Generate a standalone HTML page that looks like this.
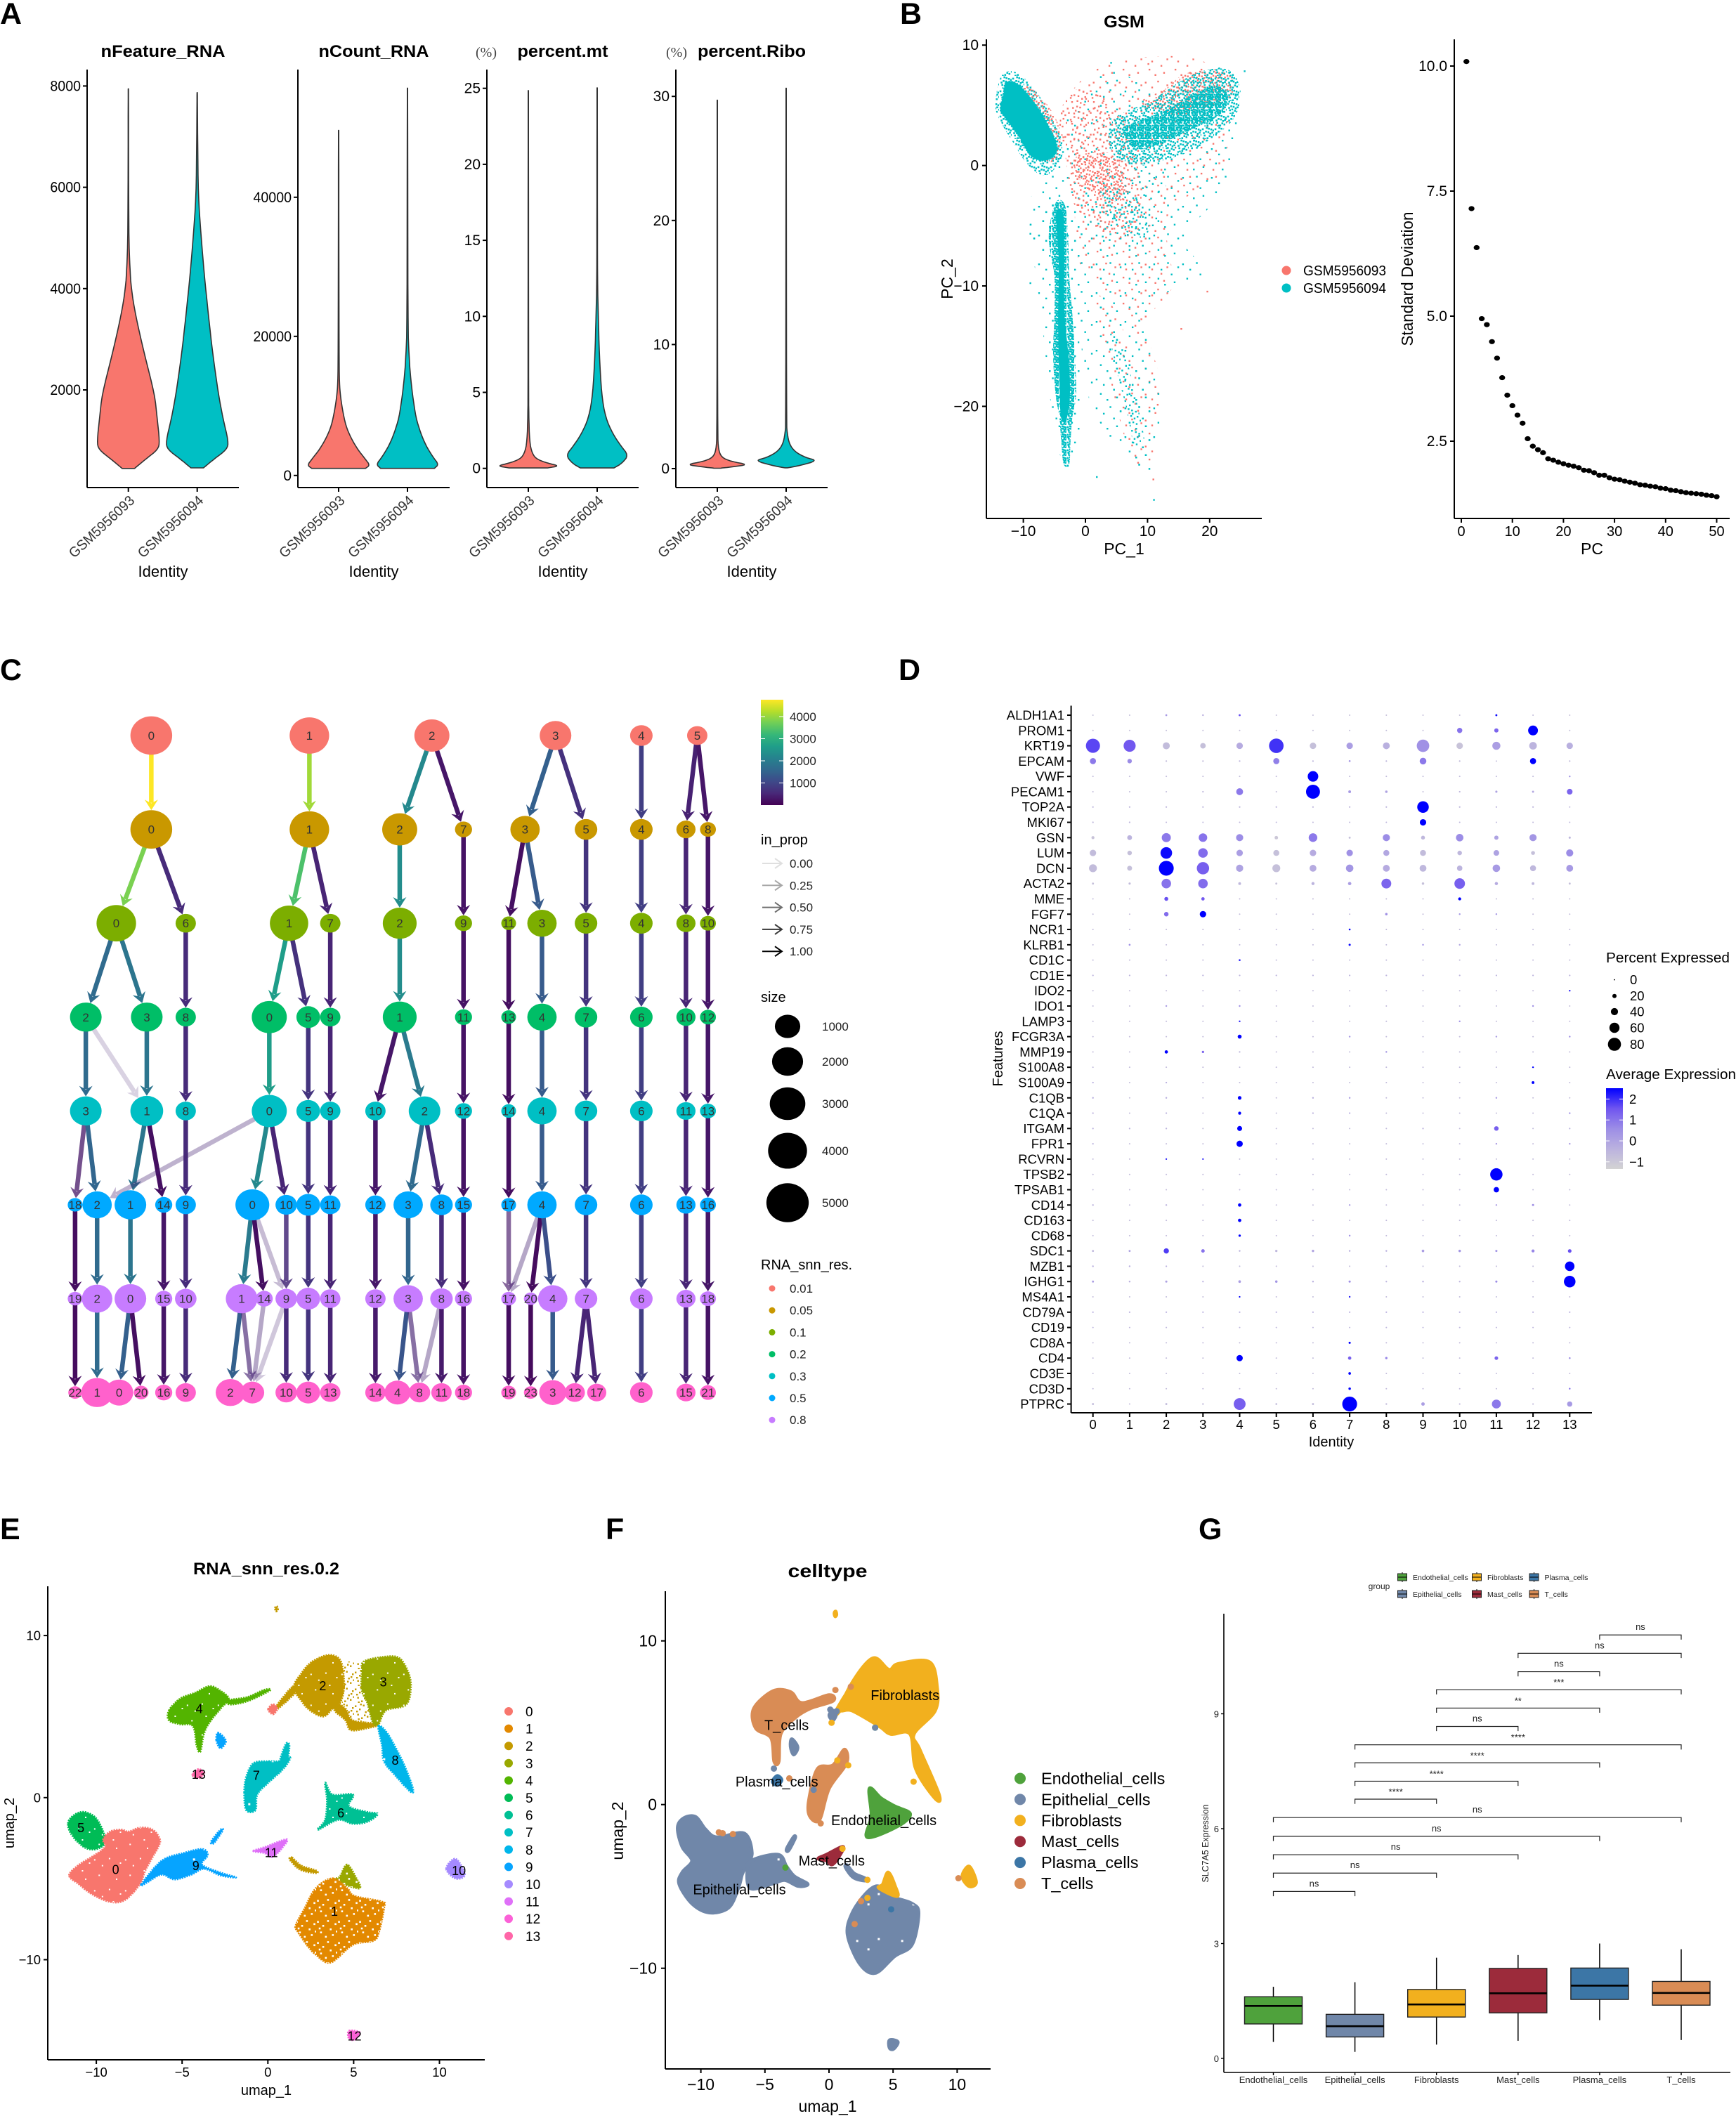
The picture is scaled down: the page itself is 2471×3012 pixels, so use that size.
<!DOCTYPE html>
<html lang="en">
<head>
<meta charset="utf-8">
<title>Single-cell RNA analysis figure</title>
<style>
html,body{margin:0;padding:0;background:#fff}
svg{display:block;font-family:"Liberation Sans",Arial,sans-serif}
</style>
</head>
<body>
<svg id="figure" xmlns="http://www.w3.org/2000/svg" width="2471" height="3012" viewBox="0 0 2471 3012">
<rect width="2471" height="3012" fill="#fff"/>
<defs id="defs"></defs>
<g id="panel-a"></g>
<g id="panel-b"></g>
<g id="panel-c"></g>
<g id="panel-d"></g>
<g id="panel-e"></g>
<g id="panel-f"></g>
<g id="panel-g"></g>
</svg>
<script>
/* ---------- Panel A data ---------- */
const violinSamples=['GSM5956093','GSM5956094'];
const featureTicks=[2000,4000,6000,8000];
const countTicks=[0,20000,40000];
const mtTicks=[0,5,10,15,20,25];
const riboTicks=[0,10,20,30];
const feature93Values=[450,630,825,980,1450,1915,2690,3470,4015,4405,5030,7945];
const feature93Density=[.2,.55,.95,1,.92,.84,.52,.23,.09,.05,.012,.005];
const feature94Values=[460,640,825,980,1450,1915,2690,3470,4250,5030,5805,6970,7870];
const feature94Density=[.2,.55,.95,1,.82,.68,.5,.36,.23,.125,.035,.015,.005];
const count93Values=[1020,1473,2323,3740,5440,7140,9405,11670,13940,20170,49630];
const count93Density=[.86,1,.86,.61,.39,.23,.125,.05,.02,.012,.005];
const count94Values=[1020,1586,2606,4306,6006,8272,11672,14505,17338,21304,55700];
const count94Density=[.86,1,.82,.59,.43,.27,.16,.09,.05,.014,.005];
const mt93Values=[.03,.16,.34,.6,.99,1.76,3.58,5.13,24.85];
const mt93Density=[.62,1,.62,.27,.12,.04,.014,.009,.004];
const mt94Values=[.03,.34,.86,1.5,2.28,3.32,4.88,7.47,10.06,12.14,18.4,25.03];
const mt94Density=[.54,.8,1,.75,.5,.27,.14,.07,.036,.01,.007,.004];
const ribo93Values=[.03,.13,.32,.57,.89,1.53,2.8,29.7];
const ribo93Density=[.09,.45,1,.45,.14,.036,.009,.004];
const ribo94Values=[.06,.25,.64,.89,1.37,2,2.8,3.6,30.66];
const ribo94Density=[.05,.45,1,.62,.27,.1,.036,.011,.004];

/* ---------- Panel B data ---------- */
const pcaXTicks=[-10,0,10,20];
const pcaYTicks=[10,0,-10,-20];
const pcaSparseRed=[[-4.3,4],[3.6,8.4],[20.5,8.2],[22.3,0],[13.4,-4],[14,-10],[10,-13],[12,-18],[11,-21],[8,-14],[4,-11],[-1,-8],[-2,-2]];
const pcaSparseCyan=[[-6,-1],[-4,3],[3.6,8.2],[8,7],[13,6],[24,8],[23,-1],[16,-6],[19,-9],[10,-12],[12,-19],[10.8,-25],[8,-25],[1,-20],[-1,-13],[-2,-7],[-8,-7],[-9,-3]];
const pcaRedWedgeCore=[[-4,4.5],[0,6.5],[6,4],[8,1],[9,-3],[7,-6],[1,-5],[-2,-3],[-3,0]];
const pcaCyanMidWedge=[[0,-2],[5,0],[11,1],[13,-2],[11,-5],[7,-7],[2,-6]];
const pcaBandHalo=[[-9,-5],[-6,-3],[-1,-4],[-1,-14],[-1,-23],[-3,-25],[-5,-22],[-7,-13],[-8,-9]];
const pcaBlobHalo=[[-14.5,5],[-13.5,7.5],[-11,7.7],[-8,6.2],[-5.5,4],[-3.5,1.5],[-5,-.3],[-7,-.8],[-9.5,.2],[-11.5,1.8],[-13.5,3.5]];
const pcaRedShoulder=[[-10,6.4],[-7,5.6],[-4.3,3.3],[-4.3,1],[-5.7,.3],[-8,1.5]];
const pcaRedCore=[[-1.7,.6],[4,1],[6.3,-1],[5.4,-3],[0,-1.8]];
const pcaCyanCore=[[3,-2],[7,-2.2],[10,-4],[9.5,-6],[5,-5],[2.5,-3.5]];
const pcaLowerCloud=[[1.4,-11.1],[4.5,-11.8],[8.1,-16.7],[10.7,-20.6],[10.7,-24.8],[8.1,-25],[5.4,-20.9],[3.2,-15.7]];
const pcaLowerCore=[[4,-14],[6,-15],[8,-19],[9.5,-23],[8,-23.5],[6.5,-20],[5,-17]];
const pcaRightRed=[[9,5.2],[13,6.4],[16,7.6],[21,8],[23.5,7.4],[23,5.6],[15.2,4.2]];
const pcaRightCyan=[[4,3.5],[6.5,4.5],[10,5.2],[13,6.2],[16,7.2],[20,8],[23.5,7.8],[25,6],[24,4],[21,2.5],[17,1.2],[13,.5],[9,0],[5.5,.5],[4,1.5]];
const pcaRightCore=[[6,3],[8,3.6],[13,4.6],[17,5.8],[21,6.6],[23,5.6],[21,4],[17,3],[12,1.8],[8,1.4]];
const pcaCyanDense=[[-12.8,6.9],[-11,6.8],[-8.8,5.6],[-6.6,3.9],[-4.8,2],[-4.8,1],[-6.6,.4],[-8.8,.8],[-10.6,2.3],[-12.8,3.9],[-13.7,4.6],[-13.2,5.9]];
const pcaCyanBand=[[-4.8,-3.1],[-3.3,-3.3],[-2.8,-5.9],[-2.6,-9.2],[-2.1,-12.4],[-1.7,-15.7],[-1.5,-19],[-2.1,-20.9],[-2.4,-22.9],[-2.6,-24.8],[-3.5,-24.8],[-3.9,-22.9],[-4.2,-20.9],[-4.8,-19],[-5.2,-15.7],[-5,-12.4],[-5,-9.2],[-5.9,-5.9]];
const pcaBandCore=[[-4.7,-4],[-3.6,-4],[-3.4,-7],[-3.4,-12],[-2.7,-16],[-2.5,-19],[-3,-21],[-3.9,-21],[-4.2,-18],[-4.4,-13],[-4.3,-8]];
const pcaOutliersCyan=[[1.7,-25.8],[10.9,-27.7],[-9,-9.7],[-9,-5.6],[23,7.8],[25.5,7.9],[4,8.6]];
const pcaOutliersRed=[[10.8,-26],[15.3,-13.5],[19.5,-10.4],[11.5,-19.8],[10,8.5]];
const pcSdevValues=[10.09,7.15,6.37,4.95,4.83,4.49,4.16,3.77,3.42,3.21,3.02,2.86,2.55,2.4,2.33,2.27,2.15,2.12,2.08,2.05,2.02,2,1.97,1.92,1.91,1.87,1.82,1.82,1.77,1.74,1.73,1.7,1.68,1.66,1.63,1.62,1.6,1.59,1.56,1.55,1.52,1.51,1.49,1.47,1.46,1.45,1.44,1.42,1.41,1.39];
const elbowXTicks=[0,10,20,30,40,50];
const elbowYTicks=[2.5,5,7.5,10];

/* ---------- Panel C data ---------- */
const treeResolutions=['0.01','0.05','0.1','0.2','0.3','0.5','0.8'];
const treeLevelColors=['#F8766D','#C99800','#7CAE00','#00BE67','#00BFC4','#00A9FF','#C77CFF','#FF61CC'];
const treeLevel0=[[0,268,4830],[1,548,4170],[2,765,2880],[3,984,2130],[4,1136,780],[5,1235,610]];
const treeLevel1=[[0,268,4830],[1,548,4170],[2,708,2880],[7,821,360],[3,930,1700],[5,1038,780],[4,1136,780],[6,1215,520],[8,1254,270]];
const treeLevel2=[[0,206,4170],[6,329,610],[1,512,3830],[7,585,610],[2,708,2620],[9,821,360],[11,901,180],[3,960,1700],[5,1038,780],[4,1136,780],[8,1215,520],[10,1254,270]];
const treeLevel3=[[2,152,2130],[3,260,2130],[8,329,610],[0,477,2880],[5,546,870],[9,585,610],[1,708,2620],[11,821,360],[13,901,180],[4,960,1700],[7,1038,780],[6,1136,780],[10,1215,520],[12,1254,270]];
const treeLevel4=[[3,152,2130],[1,260,2380],[8,329,610],[0,477,2880],[5,546,870],[9,585,610],[10,665,610],[2,752,2130],[12,821,360],[14,901,180],[4,960,1700],[7,1038,780],[6,1136,780],[11,1215,520],[13,1254,270]];
const treeLevel5=[[18,133,180],[2,172,1700],[1,231,2130],[14,290,360],[9,329,610],[0,447,2620],[10,507,700],[5,546,870],[11,585,610],[12,665,610],[3,723,1700],[8,782,780],[15,821,360],[17,901,180],[4,960,1700],[7,1038,780],[6,1136,780],[13,1215,520],[16,1254,270]];
const treeLevel6=[[19,133,180],[2,172,1900],[0,231,2130],[15,290,360],[10,329,700],[1,428,2130],[14,468,360],[9,507,700],[5,546,870],[11,585,610],[12,665,610],[3,723,1700],[8,782,780],[16,821,360],[17,901,180],[20,940,90],[4,979,1700],[7,1038,780],[6,1136,780],[13,1215,520],[18,1254,270]];
const treeLevel7=[[22,133,90],[1,172,2130],[0,211,1500],[20,250,180],[16,290,360],[9,329,610],[2,408,1700],[7,447,870],[10,507,700],[5,546,870],[13,585,610],[14,665,610],[4,704,1100],[8,743,700],[11,782,610],[18,821,360],[19,901,180],[23,940,90],[3,979,1300],[12,1018,610],[17,1057,520],[6,1136,780],[15,1215,520],[21,1254,270]];
/* edge: from-cluster, to-cluster, cells, in_prop */
const treeEdges0=[[0,0,4900,1],[1,1,4200,1],[2,2,2300,1],[2,7,300,1],[3,3,1500,1],[3,5,700,1],[4,4,900,1],[5,6,450,1],[5,8,300,1]];
const treeEdges1=[[0,0,3900,1],[0,6,600,1],[1,1,3500,1],[1,7,500,1],[2,2,2400,1],[7,9,250,1],[3,11,200,1],[3,3,1400,1],[5,5,750,1],[4,4,900,1],[6,8,500,1],[8,10,300,1]];
const treeEdges2=[[0,2,1700,1],[0,3,1900,1],[6,8,600,1],[1,0,2700,1],[1,5,700,1],[7,9,500,1],[2,1,2400,1],[9,11,250,1],[11,13,180,1],[3,4,1400,1],[5,7,750,1],[4,6,900,1],[8,10,500,1],[10,12,300,1]];
const treeEdges3=[[2,3,1700,1],[2,1,500,.2],[3,1,1900,1],[8,8,600,1],[0,0,2700,1],[5,5,750,1],[9,9,500,1],[1,10,300,1],[1,2,2000,1],[11,12,250,1],[13,14,180,1],[4,4,1400,1],[7,7,750,1],[6,6,900,1],[10,11,500,1],[12,13,300,1]];
const treeEdges4=[[3,18,300,.75],[3,2,1600,1],[1,1,1900,1],[1,14,200,1],[8,9,600,1],[0,2,500,.35],[0,0,2300,1],[0,10,500,1],[5,5,750,1],[9,11,500,1],[10,12,300,1],[2,3,1700,1],[2,8,600,1],[12,15,250,1],[14,17,180,1],[4,4,1400,1],[7,7,750,1],[6,6,900,1],[11,13,500,1],[13,16,300,1]];
const treeEdges5=[[18,19,180,1],[2,2,1700,1],[1,0,1900,1],[14,15,300,1],[9,10,600,1],[0,1,2000,1],[0,14,200,1],[0,9,500,.3],[10,9,600,.85],[5,5,750,1],[11,11,500,1],[12,12,300,1],[3,3,1600,1],[8,8,600,1],[15,16,250,1],[17,17,300,.65],[4,17,500,.4],[4,20,150,1],[4,4,1200,1],[7,7,750,1],[6,6,900,1],[13,13,500,1],[16,18,300,1]];
const treeEdges6=[[19,22,150,1],[2,1,1700,1],[0,0,1500,1],[0,20,200,1],[15,16,300,1],[10,9,600,1],[1,2,1500,1],[1,7,500,.65],[14,7,500,.4],[9,7,500,.25],[9,10,600,1],[5,5,750,1],[11,13,500,1],[12,14,350,1],[3,4,1300,1],[3,8,500,.65],[8,8,500,.4],[8,11,350,1],[16,18,250,1],[17,19,180,1],[20,23,120,1],[4,3,1400,1],[7,12,500,1],[7,17,500,1],[6,6,900,1],[13,15,500,1],[18,21,250,1]];
const colorbarTicks=[1000,2000,3000,4000];
const inPropLevels=[0,.25,.5,.75,1];
const sizeLevels=[1000,2000,3000,4000,5000];
const viridisStops=['#440154','#482878','#3e4989','#31688e','#26828e','#1f9e89','#35b779','#6ece58','#b5de2b','#fde725'];

/* ---------- Panel D data ---------- */
const dotGenes=['ALDH1A1','PROM1','KRT19','EPCAM','VWF','PECAM1','TOP2A','MKI67','GSN','LUM','DCN','ACTA2','MME','FGF7','NCR1','KLRB1','CD1C','CD1E','IDO2','IDO1','LAMP3','FCGR3A','MMP19','S100A8','S100A9','C1QB','C1QA','ITGAM','FPR1','RCVRN','TPSB2','TPSAB1','CD14','CD163','CD68','SDC1','MZB1','IGHG1','MS4A1','CD79A','CD19','CD8A','CD4','CD3E','CD3D','PTPRC'];
const dotClusters=[0,1,2,3,4,5,6,7,8,9,10,11,12,13];
const dotPercent=[
[1,1,4,3,5,1,1,1,1,1,1,5,1,1],
[1,1,1,1,1,1,1,1,1,1,27,20,58,1],
[87,73,39,29,35,90,35,35,38,76,35,46,43,35],
[33,22,2,2,2,33,2,4,2,37,2,1,33,2],
[1,1,1,1,1,1,63,1,1,1,1,1,1,3],
[1,1,1,2,38,1,86,10,8,1,2,6,5,30],
[2,2,2,2,2,2,2,2,2,70,2,2,2,1],
[2,2,1,1,1,1,1,1,1,35,1,1,1,1],
[12,24,53,49,40,15,50,5,40,18,42,20,40,6],
[35,22,70,56,35,32,35,35,32,32,22,30,18,40],
[45,25,92,75,40,45,38,42,38,38,28,42,32,38],
[5,6,56,56,10,5,12,14,58,8,63,13,10,5],
[1,1,18,14,1,1,1,1,1,1,12,1,1,1],
[1,1,22,35,1,1,1,1,8,1,3,3,1,1],
[1,1,1,1,1,1,1,4,1,1,1,1,1,1],
[1,4,1,1,1,1,1,6,1,3,3,1,1,1],
[1,1,1,1,4,1,1,1,1,1,1,1,1,1],
[2,2,2,2,2,2,2,2,2,2,2,2,2,2],
[1,1,1,1,1,1,1,1,1,1,1,1,1,3],
[1,1,3,1,3,1,1,1,1,1,1,1,3,1],
[1,1,1,1,3,1,1,1,1,1,3,1,1,1],
[1,1,1,1,18,1,1,3,1,1,1,3,1,3],
[1,1,14,7,2,1,1,1,3,1,1,1,1,1],
[1,1,1,1,1,1,1,1,1,1,1,1,3,1],
[2,1,2,1,1,1,1,1,1,1,1,1,10,1],
[3,1,3,1,16,1,3,3,1,1,1,3,1,1],
[2,1,2,1,12,1,2,2,1,1,1,1,1,3],
[2,2,2,1,25,1,1,1,1,2,1,22,1,2],
[2,1,1,1,34,1,1,1,1,1,1,3,1,3],
[1,1,2,2,1,1,1,1,1,1,1,1,1,1],
[1,1,1,1,1,1,1,1,1,1,1,75,1,1],
[1,1,1,1,1,1,1,1,1,1,1,28,1,1],
[3,1,3,1,14,1,1,3,1,1,1,3,6,1],
[1,1,1,1,14,1,1,1,1,1,1,1,1,1],
[1,1,1,1,7,1,1,3,1,1,1,1,1,1],
[5,5,27,15,3,7,8,3,3,9,8,6,12,16],
[3,3,2,1,1,1,1,1,1,1,1,1,1,56],
[5,3,6,2,9,8,3,6,2,3,2,6,1,70],
[1,1,1,1,2,1,1,3,1,1,1,1,1,1],
[2,2,2,2,2,2,2,2,2,2,2,2,2,2],
[1,1,1,1,1,1,1,1,1,1,1,1,1,1],
[1,1,1,1,1,1,1,6,1,1,1,1,1,1],
[1,1,1,1,34,1,1,14,7,1,1,16,1,4],
[1,1,1,1,1,1,1,9,1,1,1,1,1,1],
[1,1,1,1,1,1,1,8,1,1,1,1,1,3],
[5,1,5,3,72,4,5,92,3,15,2,52,2,27]];
const dotAverage=[
[-.6,-.6,.3,-.2,1.5,-.6,-.6,-.6,-.6,-.6,-.6,2.2,-.5,-.6],
[-.6,-.6,-.6,-.6,-.6,-.6,-.6,-.6,-.6,-.6,1,1.2,2.4,-.6],
[1.6,1.4,-.5,-.6,-.1,1.8,-.6,.2,-.2,.5,-.7,.2,-.3,-.2],
[.9,.6,-.5,-.5,-.4,.8,-.4,.3,-.4,.9,-.5,-.5,2.3,-.5],
[-.5,-.5,-.5,-.5,-.5,-.5,2.4,-.5,-.5,-.5,-.5,-.5,-.5,.4],
[-.5,-.5,-.5,-.4,.9,-.5,2.4,.3,.1,-.5,-.4,.1,0,1.2],
[-.4,-.4,-.4,-.4,-.4,-.4,-.4,-.4,-.4,2.4,-.4,-.4,-.4,-.4],
[-.4,-.4,-.4,-.4,-.4,-.4,-.4,-.4,-.4,2.5,-.4,-.4,-.4,-.4],
[-.7,-.3,.9,1,.6,-.8,.9,-.6,.6,-.4,.6,.1,.4,-.4],
[-.5,-.6,2.2,1.1,.2,-.6,-.1,.5,0,-.5,-.4,.1,-.6,.6],
[-.5,-.6,2.4,1.3,.1,-.6,-.1,.4,-.1,-.4,-.3,.3,-.4,.3],
[-.6,-.5,1,1.1,-.4,-.7,-.3,.2,1.2,-.6,1.3,-.1,-.4,-.6],
[-.5,-.5,1.5,1.4,-.5,-.5,-.5,-.5,-.5,-.5,2.3,-.5,-.5,-.5],
[-.5,-.5,1.1,2.5,-.5,-.5,-.5,-.5,.5,-.5,.3,.3,-.5,-.5],
[-.5,-.5,-.5,-.5,-.5,-.5,-.5,2.2,-.5,-.5,-.5,-.5,-.5,-.5],
[-.5,.5,-.5,-.5,-.5,-.5,-.5,2.2,-.5,.4,0,-.5,-.5,-.5],
[-.5,-.5,-.5,-.5,2,-.5,-.5,-.5,-.5,-.5,-.5,-.5,-.5,-.5],
[-.3,-.3,-.3,-.3,-.3,-.3,-.3,-.3,-.3,-.3,-.3,-.3,-.3,-.3],
[-.5,-.5,-.5,-.5,-.5,-.5,-.5,-.5,-.5,-.5,-.5,-.5,-.5,2],
[-.5,-.5,.2,-.5,.5,-.5,-.5,-.5,-.5,-.5,-.5,-.5,.5,-.5],
[-.5,-.5,-.5,-.5,2,-.5,-.5,-.5,-.5,-.5,.5,-.5,-.5,-.5],
[-.5,-.5,-.5,-.5,2.4,-.5,-.5,.3,-.5,-.5,-.5,.2,-.5,.5],
[-.5,-.5,2.3,1.2,-.4,-.5,-.5,-.5,.3,-.5,-.5,-.5,-.5,-.5],
[-.5,-.5,-.5,-.5,-.5,-.5,-.5,-.5,-.5,-.5,-.5,-.5,2.5,-.5],
[-.2,-.5,-.2,-.5,-.5,-.5,-.5,-.5,-.5,-.5,-.5,-.5,2.5,-.5],
[-.2,-.5,-.2,-.5,2.5,-.5,-.2,.2,-.5,-.5,-.5,.2,-.5,-.5],
[-.3,-.5,-.3,-.5,2.5,-.5,-.3,-.2,-.5,-.5,-.5,-.5,-.5,.5],
[-.3,-.3,-.3,-.5,2.4,-.5,-.5,-.5,-.5,-.3,-.5,1.3,-.5,-.3],
[-.3,-.5,-.5,-.5,2.5,-.5,-.5,-.5,-.5,-.5,-.5,.2,-.5,.2],
[-.5,-.5,2,2,-.5,-.5,-.5,-.5,-.5,-.5,-.5,-.5,-.5,-.5],
[-.5,-.5,-.5,-.5,-.5,-.5,-.5,-.5,-.5,-.5,-.5,2.5,-.5,-.5],
[-.5,-.5,-.5,-.5,-.5,-.5,-.5,-.5,-.5,-.5,-.5,2.5,-.5,-.5],
[-.3,-.5,-.3,-.5,2.5,-.5,-.5,.2,-.5,-.5,-.5,.2,.5,-.5],
[-.5,-.5,-.5,-.5,2.5,-.5,-.5,-.5,-.5,-.5,-.5,-.5,-.5,-.5],
[-.5,-.5,-.5,-.5,2.5,-.5,-.5,.5,-.5,-.5,-.5,-.5,-.5,-.5],
[-.4,.1,1.7,1,-.3,-.4,0,-.2,-.2,.2,.4,.4,.7,1.5],
[-.2,-.2,-.2,-.5,-.5,-.5,-.5,-.5,-.5,-.5,-.5,-.5,-.5,2.5],
[.2,-.2,.1,-.2,.2,.4,-.2,.5,-.3,-.2,-.3,.6,-.5,2.5],
[-.5,-.5,-.5,-.5,2.3,-.5,-.5,2,-.5,-.5,-.5,-.5,-.5,-.5],
[-.2,-.2,-.2,-.2,-.2,-.2,-.2,-.2,-.2,-.2,-.2,-.2,-.2,-.2],
[-.4,-.4,-.4,-.4,-.4,-.4,-.4,-.4,-.4,-.4,-.4,-.4,-.4,-.4],
[-.5,-.5,-.5,-.5,-.5,-.5,-.5,2.4,-.5,-.5,-.5,-.5,-.5,-.5],
[-.5,-.5,-.5,-.5,2.5,-.5,-.5,1.3,.7,-.5,-.5,1.2,-.5,.4],
[-.5,-.5,-.5,-.5,-.5,-.5,-.5,2.4,-.5,-.5,-.5,-.5,-.5,-.5],
[-.5,-.5,-.5,-.5,-.5,-.5,-.5,2.4,-.5,-.5,-.5,-.5,-.5,1],
[-.5,-.5,-.5,-.5,1.3,-.5,-.5,2.5,-.5,.2,-.5,.9,-.5,.3]];
const percentLegend=[0,20,40,60,80];
const averageLegend=[2,1,0,-1];
const expressionStops=['#D3D3D3','#BBB2DF','#9C8DE6','#6F55F0','#0000FF'];

/* ---------- Panels E / F data (outlines in UMAP units) ---------- */
const umapXTicks=[-10,-5,0,5,10];
const umapYTicks=[10,0,-10];
const hueClusters=['#F8766D','#E38900','#C49A00','#99A800','#53B400','#00BC56','#00C094','#00BFC4','#00B6EB','#06A4FF','#A58AFF','#DF70F8','#FB61D7','#FF66A8'];
const cellTypes=['Endothelial_cells','Epithelial_cells','Fibroblasts','Mast_cells','Plasma_cells','T_cells'];
const cellTypeColors=['#4FA23C','#7087A9','#F2B01E','#9C2B3B','#3C76A6','#D98C55'];
const cluster0Outline=[[-11.58,-4.8],[-11,-4.14],[-10.26,-3.66],[-9.5,-3.06],[-9.6,-2.58],[-9.19,-2.1],[-8.54,-1.98],[-8.12,-2.1],[-7.47,-1.86],[-6.72,-1.98],[-6.3,-2.58],[-6.4,-3.06],[-6.72,-3.66],[-7.15,-4.5],[-7.47,-5.35],[-8.33,-6.31],[-9.19,-6.43],[-10.26,-5.95],[-11,-5.35]];
const cluster1Outline=[[3.77,-4.99],[4.62,-5.59],[5.05,-6.07],[6.66,-6.43],[6.77,-6.8],[6.45,-8.36],[6.12,-8.84],[4.95,-9.08],[3.66,-10.17],[2.8,-9.69],[2.27,-9.08],[1.73,-8.24],[1.63,-7.88],[2.16,-6.8],[2.8,-5.59]];
const cluster1Tip=[[4.62,-4.14],[4.2,-4.87],[3.9,-5.1],[5.3,-5.6],[5.16,-4.99]];
const cluster2Outline=[[1.52,6.82],[1.95,7.66],[2.59,8.39],[3.55,8.8],[4.2,8.5],[4.41,7.54],[4.41,6.58],[4.2,5.86],[3.77,5.49],[3.23,5.01],[2.48,5.37],[1.95,5.98]];
const cluster2Tail=[[3.77,5.97],[4.52,5.49],[4.95,4.77],[6.45,4.53],[5.8,4.29],[4.84,4.17],[4.52,4.77],[3.9,5.37]];
const cluster2Trail=[[1.41,6.82],[.4,5.5],[.6,5.5],[1.6,6.5]];
const cluster23Gap=[[4.2,8.2],[5.7,8],[5.9,5.6],[6.2,4.7],[4.8,4.8],[4.3,6]];
const cluster3Outline=[[5.48,7.78],[5.59,8.39],[6.66,8.67],[7.62,8.63],[8.16,7.78],[8.33,6.82],[8.05,5.73],[6.87,5.37],[6.45,4.53],[6.12,4.65],[5.8,5.85],[5.48,6.63]];
const cluster4Outline=[[-5.76,5.37],[-5.12,6.1],[-4.26,6.46],[-3.4,6.87],[-2.76,6.58],[-2.29,6.1],[-2.76,5.49],[-3.4,4.65],[-3.73,3.93],[-3.94,2.84],[-4.15,3.2],[-4.37,4.41],[-5.12,4.53],[-5.76,4.77]];
const cluster4Trail=[[-2.29,6],[-1.2,6.2],[-.2,6.65],[.1,6.6],[-1.2,5.95],[-2.2,5.75]];
const cluster5Outline=[[-11.65,-1.6],[-11.3,-1.08],[-10.7,-.89],[-10.04,-1.25],[-9.6,-2.1],[-9.5,-2.82],[-10.04,-3.18],[-10.7,-3.06],[-11.4,-2.34]];
const cluster6Outline=[[3.34,.92],[3.77,.19],[4.95,.19],[4.73,-.53],[5.8,-.89],[6.4,-1.01],[5.8,-1.49],[4.95,-1.61],[4.09,-1.37],[2.91,-1.98],[3.34,-1.37],[3.45,-.17]];
const cluster7Outline=[[-1.37,.31],[-1.26,1.28],[-.84,2.12],[-.02,2.24],[.64,2.24],[1.3,2.48],[.88,1.76],[.02,.92],[-.62,.19],[-.73,-.77],[-1.26,-.77]];
const cluster7Trail=[[.7,2.2],[1.05,3.3],[1.25,3.2],[1.1,2.2]];
const cluster8Outline=[[6.45,4.41],[6.98,3.93],[7.84,2.24],[8.42,.67],[8.33,.36],[7.41,1.39],[6.77,2.24],[6.66,3.2]];
const cluster9Outline=[[-7.37,-5.35],[-6.19,-3.9],[-4.9,-3.42],[-3.83,-3.18],[-3.51,-3.54],[-3.83,-4.14],[-2.76,-4.63],[-1.86,-4.92],[-2.76,-4.8],[-3.72,-4.39],[-4.47,-4.75],[-5.44,-5.04],[-6.19,-4.75],[-7.05,-5.23]];
const cluster9Spur=[[-3.3,-2.7],[-2.76,-1.98],[-2.65,-2.05],[-3.15,-2.8]];
const cluster9Patch=[[-3,3.55],[-2.9,4],[-2.45,3.5],[-2.76,3.05]];
const cluster10Outline=[[10.4,-4.39],[10.94,-3.78],[11.48,-4.75],[10.94,-4.99]];
const cluster11Outline=[[-.84,-3.3],[-.19,-3.06],[1.09,-2.58],[.77,-3.18],[.24,-3.66],[-.19,-3.42]];
const cluster11Trail=[[1.4,-3.7],[1.95,-4.2],[2.8,-4.5],[2.8,-4.65],[1.9,-4.45],[1.3,-3.85]];
const cluster12Outline=[[4.73,-14.39],[5.37,-14.5],[5.05,-14.92],[4.73,-14.87]];
const cluster13Outline=[[-4.4,1.4],[-4.05,1.75],[-3.7,1.5],[-4.05,1.2]];
const stray0Outline=[[.02,5.45],[.3,5.75],[.55,5.5],[.3,5.15]];
const strayTopOutline=[[.42,11.7],[.52,11.8],[.58,11.6],[.48,11.5]];
/* cell-type bulks as they read in panel F */
const epithelialMainOutline=[[-11.81,-1.4],[-11.3,-.81],[-10.39,-.76],[-9.64,-1.52],[-8.73,-2],[-6.63,-1.76],[-6.02,-2.95],[-6.48,-3.79],[-6.78,-4.26],[-7.08,-5.1],[-7.83,-6.29],[-9.34,-6.6],[-10.69,-6.05],[-11.69,-4.86],[-11.45,-4.14],[-10.69,-3.43],[-11.45,-2.59]];
const epithelialBridgeOutline=[[-6.33,-3.79],[-5.72,-3.31],[-3.92,-3.07],[-3.31,-3.79],[-2.71,-4.38],[-1.66,-4.86],[-2.41,-4.98],[-3.46,-4.62],[-4.52,-4.86],[-6.17,-5.1]];
const epithelialLowerOutline=[[3.77,-4.98],[4.52,-5.45],[5.12,-5.69],[6.48,-6.05],[6.99,-6.64],[6.48,-8.55],[5.12,-9.26],[3.61,-10.29],[2.41,-9.74],[1.45,-7.95],[1.81,-6.64],[2.86,-5.45]];
const fibroblastOutline=[[.9,5.86],[1.96,7.64],[3.46,8.95],[4.67,8.24],[5.42,8.6],[7.83,8.71],[8.43,7.17],[8.28,5.74],[6.63,4.31],[7.08,3.36],[8.58,.62],[8.28,.38],[6.78,2.17],[6.33,4.31],[4.82,4.31],[3.92,4.79],[1.81,5.74]];
const tCellUpperOutline=[[-5.87,5.86],[-4.37,6.93],[-3,6.88],[-2.11,6.21],[0,6.69],[.3,6.33],[-1.51,5.86],[-2.71,5.26],[-3.77,4.31],[-3.92,2.64],[-4.28,2.64],[-4.52,4.07],[-5.72,4.67]];
const tCellLowerOutline=[[-1.51,-.69],[-1.57,.26],[-.9,2.17],[.3,2.4],[1.2,3.36],[1.36,2.52],[0,.98],[-.75,-.93]];
const endothelialOutline=[[3.16,.98],[4.07,.38],[5.12,-.1],[6.33,-.57],[5.42,-1.29],[3.01,-2],[3.31,-.69]];
const umapLabelsE=[[0,-8.87,-4.43],[1,3.88,-7],[2,3.2,6.9],[3,6.73,7.14],[4,-4,5.5],[5,-10.9,-1.85],[6,4.25,-.94],[7,-.67,1.38],[8,7.42,2.3],[9,-4.2,-4.2],[10,11.13,-4.5],[11,.2,-3.4],[12,5.05,-14.7],[13,-4.03,1.45]];
const umapLabelsF=[['Fibroblasts',5.93,6.69],['T_cells',-3.31,4.86],['Plasma_cells',-4.07,1.4],['Endothelial_cells',4.28,-.95],['Mast_cells',.21,-3.43],['Epithelial_cells',-6.99,-5.19]];
/* spots: x, y, cell-type index */
const umapSpotsF=[[-8.6,-1.7,5],[-8.3,-1.75,5],[-7.5,-1.8,5],[1.05,-2.7,2],[.2,5,2],[.1,5.8,1],[.6,5.7,1],[-3.9,1.6,4],[-3.95,1.3,4],[-4.3,2.2,1],[-3.1,1.6,5],[-3.4,-3.85,0],[-.65,-1.15,5],[-1.2,.9,1],[.65,2.7,2],[1.5,2.4,2],[6.6,1.4,2],[.5,7,5],[1.7,7.2,5],[2,-7.3,5],[4.85,-6.4,4],[2.5,-5.9,5],[3,-5.7,2],[3.6,4.7,0],[3.6,4.7,1],[10.1,-4.5,5],[3,-4.6,2]];

/* ---------- Panel G data ---------- */
const boxGroups=['Endothelial_cells','Epithelial_cells','Fibroblasts','Mast_cells','Plasma_cells','T_cells'];
const boxWhiskerHigh=[1.87,1.99,2.63,2.7,3,2.85];
const boxQ3=[1.61,1.15,1.8,2.35,2.36,2.01];
const boxMedian=[1.37,.84,1.41,1.7,1.9,1.71];
const boxQ1=[.9,.56,1.08,1.19,1.54,1.39];
const boxWhiskerLow=[.43,.17,.36,.46,1,.48];
const boxYTicks=[0,3,6,9];
const bracketFrom=[0,0,0,0,0,1,1,1,1,2,2,2,3,3,4];
const bracketTo=[1,2,3,4,5,2,3,4,5,3,4,5,4,5,5];
const bracketLevel=[4.36,4.84,5.32,5.8,6.29,6.77,7.24,7.72,8.19,8.67,9.15,9.63,10.1,10.58,11.06];
const bracketLabels=['ns','ns','ns','ns','ns','****','****','****','****','ns','**','***','ns','ns','ns'];

/* ---------- helpers ---------- */
const NS='http://www.w3.org/2000/svg';
const defs=document.getElementById('defs');
function mk(tag,parent,attrs){
  const e=document.createElementNS(NS,tag);
  for(const k in attrs) e.setAttribute(k,attrs[k]);
  parent.appendChild(e);
  return e;
}
function tagEl(e,label,flag){
  
  
  return e;
}
function txt(parent,x,y,str,size,label,o){
  o=o||{};
  const a={x:x,y:y,'font-size':size,fill:o.fill||'#000','text-anchor':o.anchor||'start'};
  if(o.weight)a['font-weight']=o.weight;
  if(o.family)a['font-family']=o.family;
  if(o.rotate!==undefined)a.transform='rotate('+o.rotate+' '+x+' '+y+')';
  if(o.len){a.textLength=o.len;a.lengthAdjust='spacingAndGlyphs';}
  const t=mk('text',parent,a);
  t.textContent=str;
  return tagEl(t,label);
}
function ln(parent,x1,y1,x2,y2,label,w,color){
  const l=mk('line',parent,{x1:x1,y1:y1,x2:x2,y2:y2,stroke:color||'#000','stroke-width':w||2});
  return tagEl(l,label);
}
/* closed Catmull-Rom outline through data-space vertices */
function smoothPath(pts,fx,fy){
  const P=pts.map(p=>[fx(p[0]),fy(p[1])]),n=P.length;
  let d='M'+P[0][0].toFixed(1)+' '+P[0][1].toFixed(1);
  for(let i=0;i<n;i++){
    const p0=P[(i-1+n)%n],p1=P[i],p2=P[(i+1)%n],p3=P[(i+2)%n];
    d+='C'+(p1[0]+(p2[0]-p0[0])/6).toFixed(1)+' '+(p1[1]+(p2[1]-p0[1])/6).toFixed(1)+' '
      +(p2[0]-(p3[0]-p1[0])/6).toFixed(1)+' '+(p2[1]-(p3[1]-p1[1])/6).toFixed(1)+' '
      +p2[0].toFixed(1)+' '+p2[1].toFixed(1);
  }
  return d+'Z';
}
/* corner-cutting for an open pixel polyline */
function chaikin(pts,times){
  let out=pts;
  for(let t=0;t<times;t++){
    const next=[out[0]];
    for(let i=0;i<out.length-1;i++){
      const a=out[i],b=out[i+1];
      next.push([a[0]*.75+b[0]*.25,a[1]*.75+b[1]*.25]);
      next.push([a[0]*.25+b[0]*.75,a[1]*.25+b[1]*.75]);
    }
    next.push(out[out.length-1]);
    out=next;
  }
  return out;
}
function minus(v){return String(v).replace('-','\u2212');}
function group(parent,label){return tagEl(mk('g',parent,{}),label);}
function hexLerp(a,b,t){
  const pa=[1,3,5].map(i=>parseInt(a.substr(i,2),16));
  const pb=[1,3,5].map(i=>parseInt(b.substr(i,2),16));
  return 'rgb('+pa.map((v,i)=>Math.round(v+(pb[i]-v)*t)).join(',')+')';
}
function panelLetter(x,y,s){
  txt(document.getElementById('figure'),x,y,s,43,'panel-letter-'+s.toLowerCase(),{weight:'bold'});
}
/* texture tiles */
const tileDots=[[2,7],[25,5],[14,16],[42,12],[31,24],[9,31],[36,37],[20,41],[45,29],[6,22],[17,2],[28,33],[38,20],[11,44],[34,8],[23,18]];
function makePattern(id,color,tile,count,dot){
  const p=mk('pattern',defs,{id:id,width:tile,height:tile,patternUnits:'userSpaceOnUse'});
  tileDots.slice(0,count).forEach(d=>{
    mk('rect',p,{x:d[0]*tile/48,y:d[1]*tile/48,width:dot,height:dot,fill:color});
  });
}
makePattern('red-sparse','#F8766D',37,8,2.4);
makePattern('red-sparse-2','#F8766D',53,16,2.4);
makePattern('red-mid','#F8766D',31,16,2.4);
makePattern('red-dense','#F8766D',20,16,2.4);
makePattern('cyan-sparse','#00BFC4',41,8,2.4);
makePattern('cyan-sparse-2','#00BFC4',59,16,2.4);
makePattern('cyan-mid','#00BFC4',29,16,2.4);
makePattern('cyan-dense','#00BFC4',18,16,2.6);
makePattern('cyan-solid','#00BFC4',11,16,2.6);
makePattern('speck-light','#fff',44,7,2);
makePattern('speck-heavy','#fff',30,10,2.6);
makePattern('speck-few','#fff',64,3,3);
makePattern('gap-scatter','#C49A00',24,14,2.4);

/* ---------- Panel A ---------- */
(function(){
  const root=document.getElementById('panel-a');
  const panels=[
   {id:'nfeature',title:'nFeature_RNA',left:124,right:340,cx:[182.7,280.7],y:v=>555-(v-2000)*.0721,ticks:featureTicks,vals:[feature93Values,feature94Values],dens:[feature93Density,feature94Density],tw:177,lab:232},
   {id:'ncount',title:'nCount_RNA',left:424,right:640,cx:[482,580],y:v=>676.8-v*.0099,ticks:countTicks,vals:[count93Values,count94Values],dens:[count93Density,count94Density],tw:157,lab:532},
   {id:'percent-mt',title:'percent.mt',left:693,right:909,cx:[752,850],y:v=>666.7-v*21.64,ticks:mtTicks,vals:[mt93Values,mt94Values],dens:[mt93Density,mt94Density],tw:129,lab:801,unit:692},
   {id:'percent-ribo',title:'percent.Ribo',left:962,right:1178,cx:[1021,1119],y:v=>667-v*17.66,ticks:riboTicks,vals:[ribo93Values,ribo94Values],dens:[ribo93Density,ribo94Density],tw:154,lab:1070,unit:963}
  ];
  const colors=['#F8766D','#00BFC4'];
  panels.forEach(p=>{
    const g=group(root,'violin-panel-'+p.id);
    txt(g,p.lab,81,p.title,24,'violin-title-'+p.id,{anchor:'middle',weight:'bold',len:p.tw});
    if(p.unit)txt(g,p.unit,81,'(%)',20,'violin-unit-'+p.id,{anchor:'middle',family:'"Liberation Serif",serif',fill:'#444'});
    ln(g,p.left,99,p.left,694,'y-axis-line');
    ln(g,p.left,694,p.right,694,'x-axis-line');
    p.ticks.forEach(t=>{
      ln(g,p.left-6,p.y(t),p.left,p.y(t),'y-tick');
      txt(g,p.left-9,p.y(t)+7,String(t),21,'y-tick-label',{anchor:'end',len:t>=1000?String(t).length*10.9:undefined});
    });
    violinSamples.forEach((s,i)=>{
      const v=p.vals[i],d=p.dens[i],cx=p.cx[i];
      const leftSide=chaikin(v.map((q,k)=>[cx-d[k]*44.5,p.y(q)]),2);
      const rightSide=chaikin(v.map((q,k)=>[cx+d[k]*44.5,p.y(q)]),2).reverse();
      const pts=leftSide.concat(rightSide).map(q=>q[0].toFixed(1)+','+q[1].toFixed(1)).join(' ');
      const shape=mk('polygon',g,{points:pts,fill:colors[i],stroke:'#333','stroke-width':1.6,'stroke-linejoin':'round'});
      tagEl(shape,'violin-'+s);
      ln(g,cx,694,cx,700,'x-tick');
      txt(g,cx+10,714,s,20,'x-tick-label-'+s,{anchor:'end',rotate:-43,fill:'#333',len:119});
    });
    txt(g,p.lab,821,'Identity',22,'x-axis-title',{anchor:'middle'});
  });
  panelLetter(0,34,'A');
})();

/* ---------- Panel B ---------- */
(function(){
  const root=document.getElementById('panel-b');
  const g=group(root,'pca-plot');
  const x=v=>1545+8.84*v, y=v=>235.6-17.14*v;
  const regions=[
    [pcaSparseRed,'red-sparse','pca-region-red-sparse'],
    [pcaSparseCyan,'cyan-sparse','pca-region-cyan-sparse'],
    [pcaRedWedgeCore,'red-mid','pca-region-red-wedge'],
    [pcaCyanMidWedge,'cyan-sparse-2','pca-region-cyan-wedge'],
    [pcaBandHalo,'cyan-sparse','pca-region-band-halo'],
    [pcaBlobHalo,'cyan-dense','pca-region-blob-halo'],
    [pcaRedShoulder,'red-dense','pca-region-red-shoulder'],
    [pcaRedCore,'red-dense','pca-region-red-core'],
    [pcaCyanCore,'cyan-mid','pca-region-cyan-core'],
    [pcaLowerCloud,'red-sparse','pca-region-lower-red'],
    [pcaLowerCloud,'cyan-sparse','pca-region-lower-cyan'],
    [pcaLowerCore,'cyan-mid','pca-region-lower-core'],
    [pcaRightRed,'red-dense','pca-region-right-red'],
    [pcaRightCyan,'cyan-dense','pca-region-right-cyan'],
    [pcaRightCore,'cyan-solid','pca-region-right-core'],
    [pcaCyanBand,'cyan-solid','pca-region-cyan-band']
  ];
  regions.forEach(r=>{
    const s=mk('path',g,{d:smoothPath(r[0],x,y),fill:'url(#'+r[1]+')'});
    tagEl(s,r[2]);
  });
  const solid=mk('path',g,{d:smoothPath(pcaCyanDense,x,y),fill:'#00BFC4',stroke:'#00BFC4','stroke-width':2,'stroke-dasharray':'2 2'});
  tagEl(solid,'pca-region-cyan-dense');
  const band2=mk('path',g,{d:smoothPath(pcaBandCore,x,y),fill:'#00BFC4'});
  tagEl(band2,'pca-region-cyan-band-core');
  pcaOutliersCyan.forEach(p=>{
    tagEl(mk('rect',g,{x:x(p[0]),y:y(p[1]),width:2.4,height:2.4,fill:'#00BFC4'}),'pca-point-cyan');
  });
  pcaOutliersRed.forEach(p=>{
    tagEl(mk('rect',g,{x:x(p[0]),y:y(p[1]),width:2.4,height:2.4,fill:'#F8766D'}),'pca-point-red');
  });
  ln(g,1404,56,1404,738,'y-axis-line');
  ln(g,1404,738,1796,738,'x-axis-line');
  pcaXTicks.forEach(t=>{
    ln(g,x(t),738,x(t),744,'x-tick');
    txt(g,x(t),763,minus(t),21,'x-tick-label',{anchor:'middle'});
  });
  pcaYTicks.forEach(t=>{
    ln(g,1398,y(t),1404,y(t),'y-tick');
    txt(g,1393,y(t)+7,minus(t),21,'y-tick-label',{anchor:'end'});
  });
  txt(g,1600,39,'GSM',24,'pca-title',{anchor:'middle',weight:'bold',len:58});
  txt(g,1600,789,'PC_1',23,'x-axis-title',{anchor:'middle'});
  txt(g,1356,397,'PC_2',23,'y-axis-title',{anchor:'middle',rotate:-90});
  violinSamples.forEach((s,i)=>{
    const yy=385+25*i;
    tagEl(mk('ellipse',g,{cx:1831,cy:yy,rx:6.5,ry:6.5,fill:['#F8766D','#00BFC4'][i]}),'legend-dot-'+s);
    txt(g,1855,yy+7,s,20,'legend-label-'+s,{len:118});
  });

  const h=group(root,'elbow-plot');
  const ex=v=>2080+7.27*v, ey=v=>94+(10-v)*71.2;
  ln(h,2070,56,2070,738,'y-axis-line');
  ln(h,2070,738,2462,738,'x-axis-line');
  elbowXTicks.forEach(t=>{
    ln(h,ex(t),738,ex(t),744,'x-tick');
    txt(h,ex(t),763,String(t),20,'x-tick-label',{anchor:'middle'});
  });
  elbowYTicks.forEach(t=>{
    ln(h,2064,ey(t),2070,ey(t),'y-tick');
    txt(h,2060,ey(t)+7,t.toFixed(1),21,'y-tick-label',{anchor:'end'});
  });
  pcSdevValues.forEach((v,i)=>{
    tagEl(mk('ellipse',h,{cx:ex(i+1),cy:ey(v),rx:4.2,ry:3.6,fill:'#000'}),'elbow-point-pc'+(i+1));
  });
  txt(h,2011,397,'Standard Deviation',23,'y-axis-title',{anchor:'middle',rotate:-90,len:191});
  txt(h,2266,789,'PC',23,'x-axis-title',{anchor:'middle'});
  panelLetter(1281,34,'B');
})();

/* ---------- Panel C ---------- */
(function(){
  const root=document.getElementById('panel-c');
  const levels=[treeLevel0,treeLevel1,treeLevel2,treeLevel3,treeLevel4,treeLevel5,treeLevel6,treeLevel7];
  const edgeSets=[treeEdges0,treeEdges1,treeEdges2,treeEdges3,treeEdges4,treeEdges5,treeEdges6];
  const sx=.8036, sy=.7398;
  const lx=u=>u*sx;
  const ly=l=>1047+l*133.6;
  const radiusTable=[[0,11],[1000,22.5],[2000,27.5],[3000,31.5],[4000,34.5],[5000,37.5]];
  function radius(n){
    for(let i=1;i<radiusTable.length;i++){
      if(n<=radiusTable[i][0]){
        const a=radiusTable[i-1],b=radiusTable[i];
        return a[1]+(b[1]-a[1])*(n-a[0])/(b[0]-a[0]);
      }
    }
    return 37.5;
  }
  function viridis(n){
    const t=Math.max(0,Math.min(1,n/4900))*(viridisStops.length-1);
    const i=Math.min(viridisStops.length-2,Math.floor(t));
    return hexLerp(viridisStops[i],viridisStops[i+1],t-i);
  }
  function arrow(parent,x1,y1,x2,y2,color,w,hw,hl,alpha,label){
    const e=tagEl(mk('g',parent,{opacity:alpha}),label);
    const dx=x2-x1,dy=y2-y1,len=Math.hypot(dx,dy),ux=dx/len,uy=dy/len;
    const bx=x2-ux*hl,by=y2-uy*hl,nx=-uy,ny=ux;
    mk('line',e,{x1:x1,y1:y1,x2:x2-ux*hl*.7,y2:y2-uy*hl*.7,stroke:color,'stroke-width':w});
    const nb=[bx+nx*hw,by+ny*hw,x2-ux*hl*.65,y2-uy*hl*.65,bx-nx*hw,by-ny*hw];
    mk('polygon',e,{points:x2+','+y2+' '+nb[0]+','+nb[1]+' '+nb[2]+','+nb[3]+' '+nb[4]+','+nb[5],fill:color});
    return e;
  }
  const edgeLayer=group(root,'tree-edges');
  const nodeLayer=group(root,'tree-nodes');
  edgeSets.forEach((set,l)=>{
    set.forEach(ed=>{
      const a=levels[l].find(n=>n[0]===ed[0]);
      const b=levels[l+1].find(n=>n[0]===ed[1]);
      const x1=lx(a[1]),y1=ly(l),x2=lx(b[1]),y2=ly(l+1);
      const dx=x2-x1,dy=y2-y1,len=Math.hypot(dx,dy),ux=dx/len,uy=dy/len;
      const r=radius(b[2]);
      const rx=r*sx,ry=r*sy;
      const d=1/Math.sqrt(ux*ux/(rx*rx)+uy*uy/(ry*ry));
      arrow(edgeLayer,x1,y1,x2-ux*d,y2-uy*d,viridis(ed[2]),6.5,9.5,15,ed[3],'tree-edge-l'+l+'-'+ed[0]+'-to-'+ed[1]);
    });
  });
  levels.forEach((nodes,l)=>{
    nodes.forEach(n=>{
      const r=radius(n[2]);
      tagEl(mk('ellipse',nodeLayer,{cx:lx(n[1]),cy:ly(l),rx:r*sx,ry:r*sy,fill:treeLevelColors[l]}),'tree-node-l'+l+'-'+n[0]);
      txt(nodeLayer,lx(n[1]),ly(l)+6,String(n[0]),17,'tree-node-label',{anchor:'middle',fill:'#333'});
    });
  });
  /* legends */
  const leg=group(root,'tree-legends');
  const grad=mk('linearGradient',defs,{id:'viridis-bar',x1:0,y1:1,x2:0,y2:0});
  viridisStops.forEach((c,i)=>{mk('stop',grad,{offset:i/(viridisStops.length-1),'stop-color':c});});
  tagEl(mk('rect',leg,{x:1083,y:996,width:32,height:150,fill:'url(#viridis-bar)'}),'edge-count-colorbar');
  const by=v=>1146-v*.0315;
  colorbarTicks.forEach(t=>{
    ln(leg,1083,by(t),1089,by(t),'colorbar-tick',1,'#fff');
    ln(leg,1109,by(t),1115,by(t),'colorbar-tick',1,'#fff');
    txt(leg,1124,by(t)+6,String(t),17,'colorbar-label',{fill:'#222'});
  });
  txt(leg,1083,1202,'in_prop',20,'in-prop-legend-title');
  inPropLevels.forEach((p,i)=>{
    const yy=1229+i*31.3;
    const e=tagEl(mk('g',leg,{opacity:.12+p*.88}),'in-prop-legend-arrow');
    mk('line',e,{x1:1085,y1:yy,x2:1112,y2:yy,stroke:'#000','stroke-width':2});
    mk('polyline',e,{points:'1103,'+(yy-7)+' 1113,'+yy+' 1103,'+(yy+7),fill:'none',stroke:'#000','stroke-width':2});
    txt(leg,1124,yy+6,p.toFixed(2),17,'in-prop-legend-label',{fill:'#222'});
  });
  txt(leg,1083,1426,'size',20,'size-legend-title');
  sizeLevels.forEach((s,i)=>{
    const yy=[1461,1511,1571,1638,1712][i];
    const r=radius(s);
    tagEl(mk('ellipse',leg,{cx:1121,cy:yy,rx:r*sx,ry:r*sy,fill:'#000'}),'size-legend-dot');
    txt(leg,1170,yy+6,String(s),17,'size-legend-label',{fill:'#222'});
  });
  txt(leg,1083,1807,'RNA_snn_res.',20,'resolution-legend-title');
  treeResolutions.forEach((s,i)=>{
    const yy=1834+i*31.2;
    tagEl(mk('circle',leg,{cx:1099,cy:yy,r:4.5,fill:treeLevelColors[i]}),'resolution-legend-dot');
    txt(leg,1124,yy+6,s,17,'resolution-legend-label',{fill:'#222'});
  });
  panelLetter(0,968,'C');
})();

/* ---------- Panel D ---------- */
(function(){
  const root=document.getElementById('panel-d');
  const x=i=>1555.7+52.2*i, y=i=>1018+21.79*i;
  const rad=p=>.9+.105*p;
  const col=a=>{
    const t=Math.max(0,Math.min(1,(a+1.1)/3.4))*(expressionStops.length-1);
    const i=Math.min(expressionStops.length-2,Math.floor(t));
    return hexLerp(expressionStops[i],expressionStops[i+1],t-i);
  };
  ln(root,1524.6,1004.5,1524.6,2011,'y-axis-line');
  ln(root,1524.6,2011,2266,2011,'x-axis-line');
  dotGenes.forEach((gene,r)=>{
    ln(root,1519,y(r),1524.6,y(r),'y-tick');
    txt(root,1515,y(r)+6.5,gene,18.5,'gene-label-'+gene,{anchor:'end'});
    dotClusters.forEach((c,k)=>{
      const d=mk('circle',root,{cx:x(k),cy:y(r),r:rad(dotPercent[r][k]),fill:col(dotAverage[r][k])});
      tagEl(d,'dot-'+gene+'-cluster-'+c);
    });
  });
  dotClusters.forEach((c,k)=>{
    ln(root,x(k),2011,x(k),2017,'x-tick');
    txt(root,x(k),2034,String(c),18.5,'cluster-label',{anchor:'middle'});
  });
  txt(root,1895,2059,'Identity',20,'x-axis-title',{anchor:'middle'});
  txt(root,1427,1507,'Features',20,'y-axis-title',{anchor:'middle',rotate:-90});
  txt(root,2286,1370,'Percent Expressed',20,'percent-legend-title',{len:176});
  percentLegend.forEach((p,i)=>{
    const yy=[1394.6,1417.7,1440,1463,1486.5][i];
    tagEl(mk('circle',root,{cx:2298,cy:yy,r:rad(p),fill:'#000'}),'percent-legend-dot');
    txt(root,2320,yy+6.5,String(p),18.5,'percent-legend-label');
  });
  txt(root,2286,1536,'Average Expression',20,'average-legend-title',{len:185});
  const grad=mk('linearGradient',defs,{id:'avg-bar',x1:0,y1:1,x2:0,y2:0});
  expressionStops.forEach((c,i)=>{mk('stop',grad,{offset:i/(expressionStops.length-1),'stop-color':c});});
  tagEl(mk('rect',root,{x:2286,y:1549,width:24,height:115,fill:'url(#avg-bar)'}),'average-colorbar');
  averageLegend.forEach(a=>{
    const yy=1624-a*29.8;
    ln(root,2286,yy,2291,yy,'colorbar-tick',1,'#fff');
    ln(root,2305,yy,2310,yy,'colorbar-tick',1,'#fff');
    txt(root,2319,yy+6.5,minus(a),18.5,'average-legend-label');
  });
  panelLetter(1279,968,'D');
})();

/* ---------- Panel E shapes ---------- */
const umapShapes=[
 [cluster5Outline,5,'light'],[cluster0Outline,0,'light'],[cluster1Tip,3,'heavy'],[cluster1Outline,1,'heavy'],
 [cluster2Outline,2,'light'],[cluster2Tail,2,'none'],[cluster2Trail,2,'none'],[cluster3Outline,3,'light'],[cluster4Outline,4,'light'],
 [cluster4Trail,4,'none'],[cluster6Outline,6,'light'],[cluster7Outline,7,'few'],[cluster7Trail,7,'none'],
 [cluster8Outline,8,'few'],[cluster9Outline,9,'few'],[cluster9Spur,9,'none'],[cluster9Patch,9,'none'],
 [cluster10Outline,10,'none'],[cluster11Outline,11,'none'],[cluster11Trail,2,'none'],[cluster12Outline,12,'none'],
 [cluster13Outline,13,'none'],[stray0Outline,0,'none'],[strayTopOutline,2,'none']
];
/* ---------- Panel F shapes: outline, cell-type index, texture ---------- */
const celltypeShapes=[
 [epithelialMainOutline,1,'none'],[epithelialBridgeOutline,1,'few'],[epithelialLowerOutline,1,'few'],
 [fibroblastOutline,2,'none'],[cluster1Tip,2,'none'],[cluster2Trail,2,'none'],[cluster10Outline,2,'none'],[strayTopOutline,2,'none'],
 [tCellUpperOutline,5,'none'],[tCellLowerOutline,5,'none'],[endothelialOutline,0,'none'],
 [cluster9Spur,1,'none'],[cluster9Patch,1,'none'],[cluster11Outline,3,'none'],[cluster11Trail,1,'none'],
 [cluster12Outline,1,'none'],[cluster13Outline,4,'none'],[stray0Outline,1,'none']
];
const speckFill={light:'speck-light',heavy:'speck-heavy',few:'speck-few'};

/* ---------- Panel E ---------- */
(function(){
  const root=document.getElementById('panel-e');
  const x=v=>381.3+24.42*v, y=v=>2558.8-23.07*v;
  const gap=mk('path',root,{d:smoothPath(cluster23Gap,x,y),fill:'url(#gap-scatter)'});
  tagEl(gap,'umap-cluster-2-scatter');
  umapShapes.forEach((s,i)=>{
    const c=hueClusters[s[1]];
    const poly=mk('path',root,{d:smoothPath(s[0],x,y),fill:c,stroke:c,'stroke-width':3,'stroke-dasharray':'2 1.5','stroke-linejoin':'round'});
    tagEl(poly,'umap-cluster-'+s[1]+'-shape-'+i);
    if(s[2]!=='none'){
      const over=mk('path',root,{d:smoothPath(s[0],x,y),fill:'url(#'+speckFill[s[2]]+')'});
      tagEl(over,'umap-cluster-'+s[1]+'-gaps');
    }
  });
  umapLabelsE.forEach(l=>{
    txt(root,x(l[1]),y(l[2])+6.5,String(l[0]),18,'cluster-label-'+l[0],{anchor:'middle'});
  });
  ln(root,68,2258,68,2932,'y-axis-line');
  ln(root,68,2932,690,2932,'x-axis-line');
  umapXTicks.forEach(t=>{
    ln(root,x(t),2932,x(t),2938,'x-tick');
    txt(root,x(t),2956,minus(t),18.5,'x-tick-label',{anchor:'middle'});
  });
  umapYTicks.forEach(t=>{
    ln(root,62,y(t),68,y(t),'y-tick');
    txt(root,58,y(t)+6.5,minus(t),18.5,'y-tick-label',{anchor:'end'});
  });
  txt(root,379,2241,'RNA_snn_res.0.2',24,'umap-title',{anchor:'middle',weight:'bold',len:208});
  txt(root,379,2982,'umap_1',20,'x-axis-title',{anchor:'middle'});
  txt(root,20,2595,'umap_2',20,'y-axis-title',{anchor:'middle',rotate:-90});
  hueClusters.forEach((c,i)=>{
    const yy=2436+i*24.6;
    tagEl(mk('ellipse',root,{cx:724,cy:yy,rx:6,ry:6,fill:c}),'legend-dot-'+i);
    txt(root,748,yy+7,String(i),19,'legend-label-'+i);
  });
  panelLetter(0,2191,'E');
})();

/* ---------- Panel F ---------- */
(function(){
  const root=document.getElementById('panel-f');
  const x=v=>1180+18.24*v, y=v=>2568.7-23.3*v;
  celltypeShapes.forEach((s,i)=>{
    const c=cellTypeColors[s[1]];
    const poly=mk('path',root,{d:smoothPath(s[0],x,y),fill:c,stroke:c,'stroke-width':5,'stroke-linejoin':'round'});
    tagEl(poly,'celltype-'+cellTypes[s[1]]+'-shape-'+i);
    if(s[2]==='few'){
      const over=mk('path',root,{d:smoothPath(s[0],x,y),fill:'url(#speck-few)'});
      tagEl(over,'celltype-'+cellTypes[s[1]]+'-gaps');
    }
  });
  umapSpotsF.forEach(p=>{
    tagEl(mk('circle',root,{cx:x(p[0]),cy:y(p[1]),r:4.5,fill:cellTypeColors[p[2]]}),'celltype-spot-'+cellTypes[p[2]]);
  });
  umapLabelsF.forEach(l=>{
    txt(root,x(l[1]),y(l[2])+7,l[0],20,'celltype-label-'+l[0],{anchor:'middle'});
  });
  ln(root,947,2265,947,2945,'y-axis-line');
  ln(root,947,2945,1410,2945,'x-axis-line');
  umapXTicks.forEach(t=>{
    ln(root,x(t),2945,x(t),2951,'x-tick');
    txt(root,x(t),2975,minus(t),23,'x-tick-label',{anchor:'middle'});
  });
  umapYTicks.forEach(t=>{
    ln(root,941,y(t),947,y(t),'y-tick');
    txt(root,935,y(t)+8,minus(t),23,'y-tick-label',{anchor:'end'});
  });
  txt(root,1178,2245,'celltype',26,'umap-title',{anchor:'middle',weight:'bold',len:113});
  txt(root,1178,3006,'umap_1',23,'x-axis-title',{anchor:'middle'});
  txt(root,887,2606,'umap_2',23,'y-axis-title',{anchor:'middle',rotate:-90});
  cellTypes.forEach((c,i)=>{
    const yy=2531.5+i*29.9;
    tagEl(mk('ellipse',root,{cx:1452,cy:yy,rx:8,ry:8,fill:cellTypeColors[i]}),'legend-dot-'+c);
    txt(root,1482,yy+8,c,23.5,'legend-label-'+c);
  });
  panelLetter(862,2191,'F');
})();

/* ---------- Panel G ---------- */
(function(){
  const root=document.getElementById('panel-g');
  const x=i=>1812.5+116.1*i, y=v=>2930-54.5*v;
  ln(root,1742,2297,1742,2950,'y-axis-line',1.6);
  ln(root,1742,2950,2463,2950,'x-axis-line',1.6);
  boxYTicks.forEach(t=>{
    ln(root,1738,y(t),1742,y(t),'y-tick',1.4);
    txt(root,1735,y(t)+5,String(t),13,'y-tick-label',{anchor:'end',fill:'#222'});
  });
  boxGroups.forEach((b,i)=>{
    const g=group(root,'box-'+b);
    ln(g,x(i),y(boxWhiskerLow[i]),x(i),y(boxWhiskerHigh[i]),'box-whisker',1.5);
    const r=mk('rect',g,{x:x(i)-41,y:y(boxQ3[i]),width:82,height:y(boxQ1[i])-y(boxQ3[i]),fill:cellTypeColors[i],stroke:'#222','stroke-width':1.4});
    tagEl(r,'box-body');
    ln(g,x(i)-41,y(boxMedian[i]),x(i)+41,y(boxMedian[i]),'box-median',2.6);
    ln(root,x(i),2950,x(i),2954,'x-tick',1.4);
    txt(root,x(i),2965,b,13,'x-tick-label-'+b,{anchor:'middle',fill:'#222'});
  });
  bracketFrom.forEach((f,i)=>{
    const a=x(f),b=x(bracketTo[i]),yy=y(bracketLevel[i]);
    const br=mk('polyline',root,{points:a+','+(yy+6.7)+' '+a+','+yy+' '+b+','+yy+' '+b+','+(yy+6.7),fill:'none',stroke:'#222','stroke-width':1.2});
    tagEl(br,'comparison-bracket-'+f+'-'+bracketTo[i]);
    const off=bracketLabels[i]==='ns'?7:6;
    txt(root,(a+b)/2,yy-off,bracketLabels[i],13,'comparison-label-'+f+'-'+bracketTo[i],{anchor:'middle',fill:'#222'});
  });
  txt(root,1720,2624,'SLC7A5 Expression',12.5,'y-axis-title',{anchor:'middle',rotate:-90,len:111,fill:'#222'});
  txt(root,1963,2262,'group',12,'legend-title',{anchor:'middle',fill:'#222'});
  const keyX=[1996,1996,2102,2102,2183.5,2183.5];
  const keyY=[2245,2269,2245,2269,2245,2269];
  const order=[0,1,2,3,4,5];
  order.forEach(i=>{
    const k=group(root,'legend-entry-'+boxGroups[i]);
    ln(k,keyX[i],keyY[i]-7,keyX[i],keyY[i]+7,'legend-key-whisker',1);
    const r=mk('rect',k,{x:keyX[i]-6.5,y:keyY[i]-5,width:13,height:10,fill:cellTypeColors[i],stroke:'#222','stroke-width':1});
    tagEl(r,'legend-key');
    ln(k,keyX[i]-6.5,keyY[i],keyX[i]+6.5,keyY[i],'legend-key-median',1);
    txt(k,keyX[i]+15,keyY[i]+4,boxGroups[i],10.5,'legend-label',{fill:'#222'});
  });
  panelLetter(1706,2191,'G');
})();
</script>
</body>
</html>
